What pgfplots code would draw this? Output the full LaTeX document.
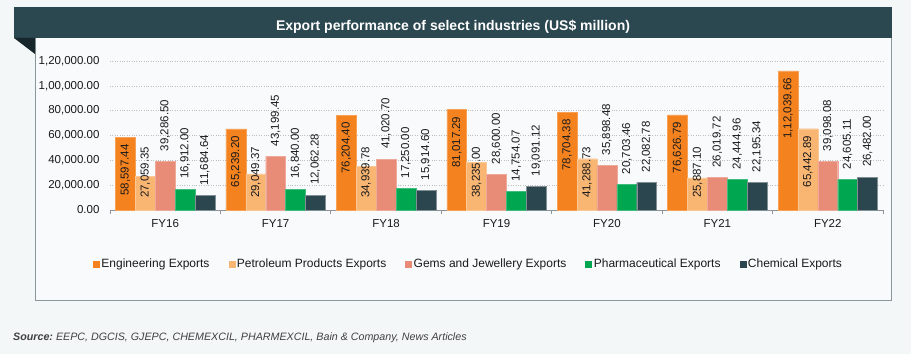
\documentclass[border=0pt]{standalone}
\usepackage{fontspec}
\setmainfont{Liberation Sans}
\usepackage{pgfplots}
\pgfplotsset{compat=1.18}
\usepackage{pgfplotstable}
\definecolor{bgc}{HTML}{F4F7F8}
\definecolor{panelc}{HTML}{F8FAFB}
\definecolor{titlec}{HTML}{2B4750}
\definecolor{tric}{HTML}{16262B}
\definecolor{panelline}{HTML}{8A979B}
\definecolor{cEng}{HTML}{F4821F}
\definecolor{cPet}{HTML}{F9B572}
\definecolor{cGem}{HTML}{E88C78}
\definecolor{cPha}{HTML}{00A650}
\definecolor{cChe}{HTML}{2B464E}
\definecolor{axc}{HTML}{8C9498}
\definecolor{txt}{HTML}{1A1A1A}
\newcommand{\lbl}{\fontsize{11.5}{13.8}\selectfont}
\newcommand{\lgd}{\fontsize{12}{14}\selectfont}

\pgfplotstableread{
x v lab
0 58597.44 58,597.44
1 65239.20 65,239.20
2 76204.40 76,204.40
3 81017.29 81,017.29
4 78704.38 78,704.38
5 76626.79 76,626.79
6 112039.66 1,12,039.66
}\eng
\pgfplotstableread{
x v
0 27059.35
1 29049.37
2 34939.78
3 38235.00
4 41288.73
5 25887.10
6 65442.89
}\pet
\pgfplotstableread{
x ly lab
0 9664 27,059.35
1 9664 29,049.37
2 9664 34,939.78
3 9664 38,235.00
4 9664 41,288.73
5 9664 25,887.10
}\petlow
\pgfplotstableread{
x v lab
6 65442.89 65,442.89
}\pethigh
\pgfplotstableread{
x v lab
0 39286.50 39,286.50
1 43199.45 43,199.45
2 41020.70 41,020.70
3 28600.00 28,600.00
4 35898.48 35,898.48
5 26019.72 26,019.72
6 39098.08 39,098.08
}\gem
\pgfplotstableread{
x v lab
0 16912.00 16,912.00
1 16840.00 16,840.00
2 17250.00 17,250.00
3 14754.07 14,754.07
4 20703.46 20,703.46
5 24444.96 24,444.96
6 24605.11 24,605.11
}\pha
\pgfplotstableread{
x v lab
0 11684.64 11,684.64
1 12062.28 12,062.28
2 15914.60 15,914.60
3 19091.12 19,091.12
4 22082.78 22,082.78
5 22195.34 22,195.34
6 26482.00 26,482.00
}\che

\begin{document}
\begin{tikzpicture}[x=1pt,y=1pt]
\useasboundingbox (0,0) rectangle (911,354);
\fill[bgc] (0,0) rectangle (911,354);
\fill[panelc] (35,54) rectangle (891,316);
\draw[panelline, line width=0.9pt] (35,316) -- (35,54) -- (891,54) -- (891,316);
\fill[titlec] (14,316) rectangle (892,346.5);
\fill[tric] (14,316) -- (35,316) -- (35,300) -- cycle;
\node[anchor=base, text=white, font=\bfseries\fontsize{14}{16}\selectfont, inner sep=0pt] at (453,323.3) {Export performance of select industries (US\$ million)};

\begin{axis}[
  at={(110pt,144pt)}, anchor=south west,
  scale only axis, width=773pt, height=149pt,
  xmin=-0.5, xmax=6.5, ymin=0, ymax=120000,
  axis lines*=left,
  y axis line style={draw=none},
  x axis line style={draw=axc, line width=0.9pt},
  xtick={0,...,6},
  xticklabels={FY16,FY17,FY18,FY19,FY20,FY21,FY22},
  minor xtick={-0.5,0.5,1.5,2.5,3.5,4.5,5.5,6.5},
  major tick length=0pt, minor tick length=4pt,
  tick align=outside,
  minor tick style={draw=axc, line width=0.9pt},
  ytick={0,20000,40000,60000,80000,100000,120000},
  yticklabels={0.00,{20,000.00},{40,000.00},{60,000.00},{80,000.00},{1,00,000.00},{1,20,000.00}},
  scaled y ticks=false,
  ymajorgrids,
  grid style={dotted, color=gray!50, line width=0.5pt},
  tick label style={font=\lbl, text=txt},
  yticklabel style={xshift=-7pt},
  xticklabel style={anchor=base, yshift=-17pt},
  legend columns=-1,
  legend style={at={(0.4638,-0.362)}, anchor=center, draw=none, fill=none, font=\lgd, text=txt,
    /tikz/every even column/.append style={column sep=17pt}},
  clip=false,
]
\addplot[ybar, bar width=0.18, bar shift=0, fill=cEng, draw=cEng!75!white, line width=0.4pt,
  legend image code/.code={\fill[cEng] (0pt,-3pt) rectangle (6pt,3pt);},
  nodes near coords, point meta=explicit symbolic,
  nodes near coords style={rotate=90, anchor=east, inner xsep=7pt, inner ysep=0pt, font=\lbl, text=txt}]
  table[x expr=\thisrow{x}-0.36,y=v,meta=lab]{\eng};
\addlegendentry{Engineering Exports}
\addplot[ybar, bar width=0.18, bar shift=0, fill=cPet, draw=cPet!75!white, line width=0.4pt,
  legend image code/.code={\fill[cPet] (0pt,-3pt) rectangle (6pt,3pt);}]
  table[x expr=\thisrow{x}-0.18,y=v]{\pet};
\addlegendentry{Petroleum Products Exports}
\addplot[ybar, bar width=0.18, bar shift=0, fill=cGem, draw=cGem!75!white, line width=0.4pt,
  legend image code/.code={\fill[cGem] (0pt,-3pt) rectangle (6pt,3pt);},
  nodes near coords, point meta=explicit symbolic,
  nodes near coords style={rotate=90, anchor=west, inner xsep=10pt, inner ysep=0pt, font=\lbl, text=txt}]
  table[x=x,y=v,meta=lab]{\gem};
\addlegendentry{Gems and Jewellery Exports}
\addplot[ybar, bar width=0.18, bar shift=0, fill=cPha, draw=cPha!75!white, line width=0.4pt,
  legend image code/.code={\fill[cPha] (0pt,-3pt) rectangle (6pt,3pt);},
  nodes near coords, point meta=explicit symbolic,
  nodes near coords style={rotate=90, anchor=west, inner xsep=10pt, inner ysep=0pt, font=\lbl, text=txt}]
  table[x expr=\thisrow{x}+0.18,y=v,meta=lab]{\pha};
\addlegendentry{Pharmaceutical Exports}
\addplot[ybar, bar width=0.18, bar shift=0, fill=cChe, draw=cChe!60!white, line width=0.4pt,
  legend image code/.code={\fill[cChe] (0pt,-3pt) rectangle (6pt,3pt);},
  nodes near coords, point meta=explicit symbolic,
  nodes near coords style={rotate=90, anchor=west, inner xsep=10pt, inner ysep=0pt, font=\lbl, text=txt}]
  table[x expr=\thisrow{x}+0.36,y=v,meta=lab]{\che};
\addlegendentry{Chemical Exports}
\addplot[ybar, bar width=0.18, bar shift=0, draw=none, fill=none, forget plot,
  nodes near coords, point meta=explicit symbolic,
  nodes near coords style={rotate=90, anchor=west, inner xsep=0pt, inner ysep=0pt, font=\lbl, text=txt}]
  table[x expr=\thisrow{x}-0.18,y=ly,meta=lab]{\petlow};
\addplot[ybar, bar width=0.18, bar shift=0, draw=none, fill=none, forget plot,
  nodes near coords, point meta=explicit symbolic,
  nodes near coords style={rotate=90, anchor=east, inner xsep=7pt, inner ysep=0pt, font=\lbl, text=txt}]
  table[x expr=\thisrow{x}-0.18,y=v,meta=lab]{\pethigh};
\end{axis}

\node[anchor=base west, inner sep=0pt, text=black!75, font=\fontsize{10.7}{12.8}\selectfont] at (13,14) {\bfseries\itshape Source:\mdseries\ EEPC, DGCIS, GJEPC, CHEMEXCIL, PHARMEXCIL, Bain \& Company, News Articles};
\end{tikzpicture}
\end{document}
